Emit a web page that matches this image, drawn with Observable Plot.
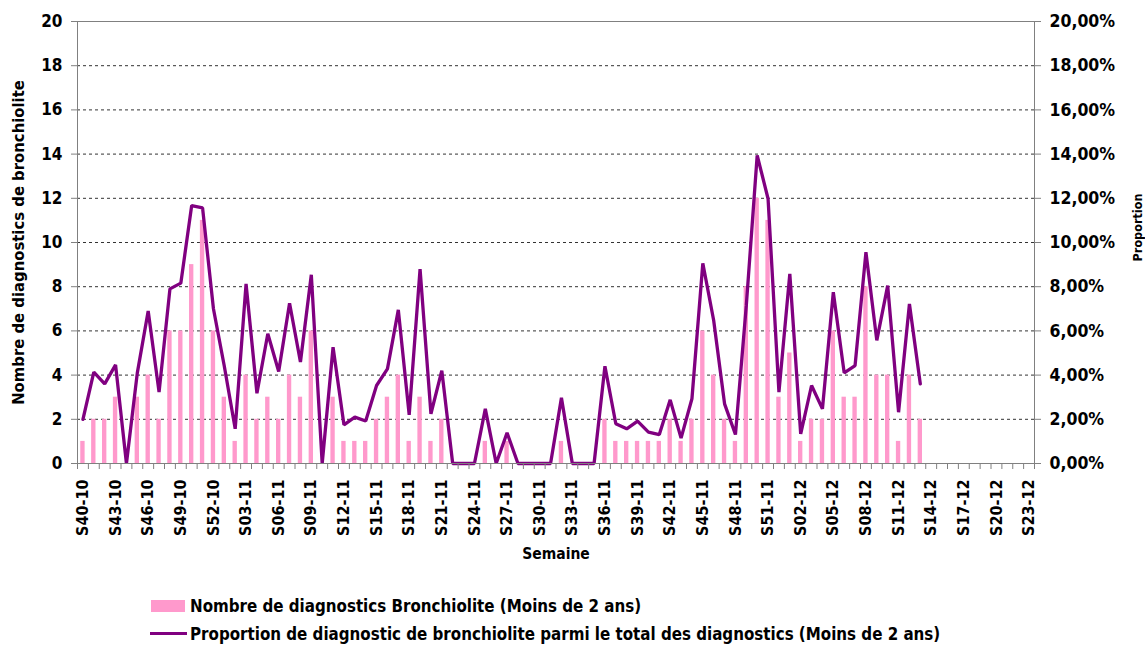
<!DOCTYPE html>
<html>
<head>
<meta charset="utf-8">
<script src="https://cdn.jsdelivr.net/npm/d3@7"></script>
<script src="https://cdn.jsdelivr.net/npm/@observablehq/plot@0.6"></script>
<style>
  html, body { margin: 0; padding: 0; background: #fff; }
  body { position: relative; width: 1145px; height: 647px; overflow: hidden;
         font-family: 'DejaVu Sans Condensed', 'DejaVu Sans', sans-serif; font-stretch: condensed; font-weight: bold; }
  #legend .sw { position: absolute; }
  #legend .tx { position: absolute; left: 190px; height: 20px; line-height: 20px; font-size: 16.8px; color: #000; white-space: nowrap; }
</style>
</head>
<body>
<div id="chart"></div>
<div id="legend">
  <div class="sw" style="left:151px;top:600px;width:34px;height:12px;background:#FF99CC"></div>
  <div class="tx" style="top:596px">Nombre de diagnostics Bronchiolite (Moins de 2 ans)</div>
  <div class="sw" style="left:150px;top:632px;width:37px;height:3px;background:#800080"></div>
  <div class="tx" style="top:624px">Proportion de diagnostic de bronchiolite parmi le total des diagnostics (Moins de 2 ans)</div>
</div>
<script>
const weeks = [
  "S40-10","S41-10","S42-10","S43-10","S44-10","S45-10","S46-10","S47-10","S48-10","S49-10","S50-10","S51-10","S52-10",
  "S01-11","S02-11","S03-11","S04-11","S05-11","S06-11","S07-11","S08-11","S09-11","S10-11",
  "S11-11","S12-11","S13-11","S14-11","S15-11","S16-11","S17-11","S18-11","S19-11","S20-11",
  "S21-11","S22-11","S23-11","S24-11","S25-11","S26-11","S27-11","S28-11","S29-11","S30-11",
  "S31-11","S32-11","S33-11","S34-11","S35-11","S36-11","S37-11","S38-11","S39-11","S40-11",
  "S41-11","S42-11","S43-11","S44-11","S45-11","S46-11","S47-11","S48-11","S49-11","S50-11",
  "S51-11","S52-11",
  "S01-12","S02-12","S03-12","S04-12","S05-12","S06-12","S07-12","S08-12","S09-12","S10-12",
  "S11-12","S12-12","S13-12","S14-12","S15-12","S16-12","S17-12","S18-12","S19-12","S20-12",
  "S21-12","S22-12","S23-12"
];
const counts = [
  1,2,2,3,0,3,4,2,6,6,9,11,6,
  3,1,4,2,3,2,4,3,6,0,
  3,1,1,1,2,3,4,1,3,1,
  2,0,0,0,1,0,1,0,0,0,
  0,1,0,0,0,2,1,1,1,1,
  1,2,1,2,6,4,2,1,8,12,
  11,3,
  5,1,2,2,6,3,3,8,4,4,
  1,4,2,null,null,null,null,null,null,null,
  null,null,null
];
const proportions = [
  2.0,4.13,3.6,4.46,0,4.1,6.9,3.23,7.9,8.16,11.67,11.57,7.0,
  4.4,1.57,8.13,3.18,5.87,4.16,7.25,4.59,8.54,0,
  5.26,1.75,2.1,1.92,3.53,4.28,6.95,2.2,8.8,2.25,
  4.2,0,0,0,2.47,0,1.39,0,0,0,
  0,2.97,0,0,0,4.4,1.8,1.57,1.92,1.42,
  1.31,2.88,1.15,2.93,9.06,6.47,2.7,1.31,7.15,13.94,
  11.98,3.23,
  8.58,1.34,3.53,2.47,7.75,4.1,4.43,9.56,5.57,8.05,
  2.32,7.22,3.6,null,null,null,null,null,null,null,
  null,null,null
];
const yTicks = [0,2,4,6,8,10,12,14,16,18,20];
const gridTicks = [2,4,6,8,10,12,14,16,18];
const shownLabels = weeks.filter((d, i) => i % 3 === 0);
const leftTitle = "Nombre de diagnostics de bronchiolite";
const rightTitle = "Proportion";
const xTitle = "Semaine";

const rows = weeks.map((w, i) => ({week: w, count: counts[i], prop: proportions[i]}));
const W = 1145, H = 585, mL = 77, mR = 111, mT = 21, mB = 122;
const step = (W - mL - mR) / weeks.length;
const font = "'DejaVu Sans Condensed', 'DejaVu Sans', sans-serif";

const chart = Plot.plot({
  width: W, height: H,
  marginTop: mT, marginBottom: mB, marginLeft: mL, marginRight: mR,
  x: {type: "band", domain: weeks, paddingInner: 0.6, paddingOuter: 0.3, label: null},
  y: {domain: [0, 20], label: null},
  style: {fontFamily: font, fontWeight: "bold", color: "#000", background: "#fff", fontStretch: "condensed"},
  marks: [
    Plot.gridY(gridTicks, {stroke: "#333", strokeOpacity: 1, strokeDasharray: "3,3"}),
    Plot.barY(rows.filter(d => d.count != null), {x: "week", y: "count", fill: "#FF99CC"}),
    Plot.line(rows.filter(d => d.prop != null), {x: "week", y: "prop", stroke: "#800080", strokeWidth: 3.3, strokeLinejoin: "miter"}),
    Plot.frame({stroke: "#808080"}),
    Plot.axisY(yTicks, {anchor: "left", tickSize: 6, tickPadding: 9, fontSize: 17, stroke: "#808080", label: null}),
    Plot.axisY(yTicks, {anchor: "right", tickSize: 6, tickPadding: 9, fontSize: 17.5, stroke: "#808080", label: null,
      tickFormat: d => d.toFixed(2).replace(".", ",") + "%"}),
    Plot.axisX(weeks, {tickSize: 6, tickFormat: () => "", dx: -step / 2, stroke: "#808080", label: null}),
    Plot.axisX([weeks[weeks.length - 1]], {tickSize: 6, tickFormat: () => "", dx: step / 2, stroke: "#808080", label: null}),
    Plot.axisX(shownLabels, {tickSize: 0, tickPadding: 16, tickRotate: -90, fontSize: 16, label: null}),
    Plot.text([leftTitle], {frameAnchor: "left", dx: -59, rotate: -90, textAnchor: "middle", fontSize: 16.5, fontWeight: "bold"}),
    Plot.text([rightTitle], {frameAnchor: "right", dx: 103, dy: -15, rotate: -90, textAnchor: "middle", fontSize: 12.5, fontWeight: "bold"}),
    Plot.text([xTitle], {frameAnchor: "bottom", dy: 95, fontSize: 15.5, fontWeight: "bold"})
  ]
});
document.getElementById("chart").appendChild(chart);
</script>
</body>
</html>
